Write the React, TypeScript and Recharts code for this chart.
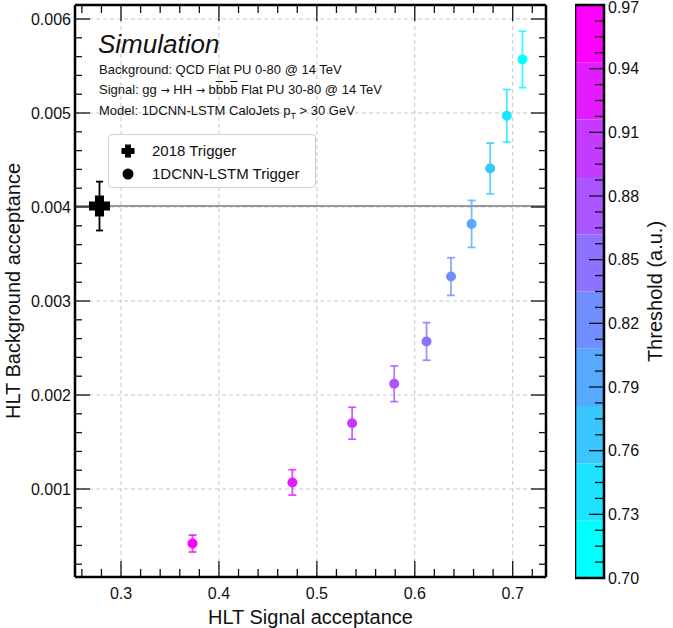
import { ScatterChart, Scatter, XAxis, YAxis, ErrorBar, ReferenceLine, ReferenceArea, CartesianGrid, Legend, Label } from "recharts";

// 1DCNN-LSTM working points (one per threshold)
const signalAcc = [0.373, 0.475, 0.536, 0.579, 0.612, 0.637, 0.658, 0.677, 0.694, 0.71];
const bkgAcc = [0.00042, 0.00107, 0.0017, 0.00212, 0.00257, 0.00326, 0.00382, 0.00441, 0.00497, 0.00557];
const bkgErr = [0.00009, 0.000135, 0.00017, 0.00019, 0.0002, 0.0002, 0.00025, 0.00027, 0.00028, 0.0003];
const thresholds = [0.97, 0.94, 0.91, 0.88, 0.85, 0.82, 0.79, 0.76, 0.73, 0.7];

// 2018 trigger reference point
const trigger2018 = [{ x: 0.278, y: 0.00401, err: 0.00026 }];

// axes
const xDomain = [0.253, 0.734];
const yDomain = [0.000064, 0.006149];
const xMajor = [0.3, 0.4, 0.5, 0.6, 0.7];
const xTicks = [0.26, 0.28, 0.3, 0.32, 0.34, 0.36, 0.38, 0.4, 0.42, 0.44, 0.46, 0.48, 0.5, 0.52, 0.54, 0.56, 0.58, 0.6, 0.62, 0.64, 0.66, 0.68, 0.7, 0.72];
const yMajor = [0.001, 0.002, 0.003, 0.004, 0.005, 0.006];
const yTicks = [
  0.0002, 0.0004, 0.0006, 0.0008, 0.001, 0.0012, 0.0014, 0.0016, 0.0018, 0.002,
  0.0022, 0.0024, 0.0026, 0.0028, 0.003, 0.0032, 0.0034, 0.0036, 0.0038, 0.004,
  0.0042, 0.0044, 0.0046, 0.0048, 0.005, 0.0052, 0.0054, 0.0056, 0.0058, 0.006,
];

// colour bar
const cbDomain = [0.7, 0.97];
const cbEdges = [0.7, 0.727, 0.754, 0.781, 0.808, 0.835, 0.862, 0.889, 0.916, 0.943, 0.97];
const cbMajor = [0.7, 0.73, 0.76, 0.79, 0.82, 0.85, 0.88, 0.91, 0.94, 0.97];
const cbTicks = [
  0.7, 0.7075, 0.715, 0.7225, 0.73, 0.7375, 0.745, 0.7525, 0.76, 0.7675, 0.775, 0.7825,
  0.79, 0.7975, 0.805, 0.8125, 0.82, 0.8275, 0.835, 0.8425, 0.85, 0.8575, 0.865, 0.8725,
  0.88, 0.8875, 0.895, 0.9025, 0.91, 0.9175, 0.925, 0.9325, 0.94, 0.9475, 0.955, 0.9625, 0.97,
];

const FONT = '"Liberation Sans", Arial, Helvetica, sans-serif';

// matplotlib "cool": cyan -> magenta
function cool(t: number) {
  const r = Math.round(255 * t);
  const g = Math.round(255 * (1 - t));
  return `rgb(${r},${g},255)`;
}
const thrColor = (thr: number) => cool((thr - cbDomain[0]) / (cbDomain[1] - cbDomain[0]));

const near = (v: number, list: number[]) => list.some((m) => Math.abs(m - v) < 1e-9);

function BottomTick({ x, y, payload }: any) {
  const major = near(payload.value, xMajor);
  return (
    <g>
      <line x1={x} x2={x} y1={y} y2={y - (major ? 16 : 8)} stroke="#111" strokeWidth={1.3} />
      {major && (
        <text x={x} y={y + 22} textAnchor="middle" fontSize={16} fill="#111" fontFamily={FONT}>
          {payload.value}
        </text>
      )}
    </g>
  );
}

function TopTick({ x, y, payload }: any) {
  const major = near(payload.value, xMajor);
  return <line x1={x} x2={x} y1={y} y2={y + (major ? 16 : 8)} stroke="#111" strokeWidth={1.3} />;
}

function LeftTick({ x, y, payload }: any) {
  const major = near(payload.value, yMajor);
  return (
    <g>
      <line x1={x} x2={x + (major ? 15 : 7)} y1={y} y2={y} stroke="#111" strokeWidth={1.3} />
      {major && (
        <text x={x - 4} y={y + 5.7} textAnchor="end" fontSize={16} fill="#111" fontFamily={FONT}>
          {payload.value}
        </text>
      )}
    </g>
  );
}

function RightTick({ x, y, payload }: any) {
  const major = near(payload.value, yMajor);
  return <line x1={x} x2={x - (major ? 15 : 7)} y1={y} y2={y} stroke="#111" strokeWidth={1.3} />;
}

function CbTick({ x, y, payload }: any) {
  const major = near(payload.value, cbMajor);
  return (
    <g>
      <line x1={x} x2={x - (major ? 15 : 9)} y1={y} y2={y} stroke="#111" strokeWidth={1.3} />
      {major && (
        <text x={x + 4} y={Math.max(y + 5.7, 13)} textAnchor="start" fontSize={16} fill="#111" fontFamily={FONT}>
          {payload.value.toFixed(2)}
        </text>
      )}
    </g>
  );
}

function crossPath(cx: number, cy: number, L: number, t: number) {
  return `M${cx - t},${cy - L}H${cx + t}V${cy - t}H${cx + L}V${cy + t}H${cx + t}V${cy + L}H${cx - t}V${cy + t}H${cx - L}V${cy - t}H${cx - t}Z`;
}

function LegendBox() {
  const row = { display: "flex", alignItems: "center", height: 23 } as const;
  return (
    <div
      style={{
        width: 208,
        height: 54,
        boxSizing: "border-box",
        border: "1px solid #d0d0d0",
        borderRadius: 4,
        background: "#fff",
        padding: "4px 0 0 0",
        fontFamily: FONT,
        fontSize: 15,
        color: "#111",
      }}
    >
      <div style={row}>
        <svg width={40} height={20} style={{ flex: "none" }}>
          <path d={crossPath(19, 10, 6.5, 3)} fill="#000" />
        </svg>
        <span style={{ marginLeft: 3 }}>2018 Trigger</span>
      </div>
      <div style={row}>
        <svg width={40} height={20} style={{ flex: "none" }}>
          <circle cx={19} cy={10} r={5.5} fill="#000" />
        </svg>
        <span style={{ marginLeft: 3 }}>1DCNN-LSTM Trigger</span>
      </div>
    </div>
  );
}

const points = signalAcc.map((x, i) => ({ x, y: bkgAcc[i], err: bkgErr[i], thr: thresholds[i] }));
const cbPoints = thresholds.map((t) => ({ x: 0.5, y: t }));

export default function App() {
  const small = { position: "absolute", left: 99, fontSize: 13, lineHeight: "13px", color: "#111", whiteSpace: "nowrap" } as const;
  const arrow = { fontFamily: '"DejaVu Sans", sans-serif', fontSize: 11 } as const;
  return (
    <div style={{ position: "absolute", left: 0, top: 0, width: 673, height: 628, background: "#fff", fontFamily: FONT }}>
      <div style={{ position: "absolute", left: 0, top: 0 }}>
        <ScatterChart width={560} height={628} margin={{ top: 4, right: 13, bottom: 0, left: 0 }}>
          <CartesianGrid verticalValues={xMajor} horizontalValues={yMajor} stroke="#c8c8c8" strokeDasharray="4 3" />
          <XAxis
            type="number"
            dataKey="x"
            domain={xDomain}
            allowDataOverflow
            ticks={xTicks}
            interval={0}
            height={51}
            tickSize={0}
            tickMargin={0}
            tickLine={false}
            tick={<BottomTick />}
            axisLine={{ stroke: "#000", strokeWidth: 2.5 }}
          >
            <Label
              content={(p: any) => (
                <text x={p.viewBox.x + p.viewBox.width / 2} y={p.viewBox.y + 47} textAnchor="middle" fontSize={20} fill="#111" fontFamily={FONT}>
                  HLT Signal acceptance
                </text>
              )}
            />
          </XAxis>
          <XAxis
            xAxisId="top"
            orientation="top"
            type="number"
            dataKey="x"
            domain={xDomain}
            allowDataOverflow
            ticks={xTicks}
            interval={0}
            height={1}
            tickSize={0}
            tickMargin={0}
            tickLine={false}
            tick={<TopTick />}
            axisLine={{ stroke: "#000", strokeWidth: 2.5 }}
          />
          <YAxis
            type="number"
            dataKey="y"
            domain={yDomain}
            allowDataOverflow
            ticks={yTicks}
            interval={0}
            width={75}
            tickSize={0}
            tickMargin={0}
            tickLine={false}
            tick={<LeftTick />}
            axisLine={{ stroke: "#000", strokeWidth: 2.5 }}
          >
            <Label
              content={(p: any) => {
                const cx = p.viewBox.x + 20;
                const cy = p.viewBox.y + p.viewBox.height / 2;
                return (
                  <text x={cx} y={cy} transform={`rotate(-90 ${cx} ${cy})`} textAnchor="middle" fontSize={20} fill="#111" fontFamily={FONT}>
                    HLT Background acceptance
                  </text>
                );
              }}
            />
          </YAxis>
          <YAxis
            yAxisId="right"
            orientation="right"
            type="number"
            dataKey="y"
            domain={yDomain}
            allowDataOverflow
            ticks={yTicks}
            interval={0}
            width={1}
            tickSize={0}
            tickMargin={0}
            tickLine={false}
            tick={<RightTick />}
            axisLine={{ stroke: "#000", strokeWidth: 2.5 }}
          />
          <ReferenceLine y={trigger2018[0].y} stroke="#999" strokeWidth={2} />
          {/* 2018 trigger is bound to the top/right axes (same ranges) so they get drawn */}
          <Scatter
            data={trigger2018}
            xAxisId="top"
            yAxisId="right"
            isAnimationActive={false}
            shape={(p: any) => <path d={crossPath(p.cx, p.cy, 10.5, 4.5)} fill="#000" />}
          >
            <ErrorBar dataKey="err" direction="y" width={3.5} stroke="#000" strokeWidth={1.8} isAnimationActive={false} />
          </Scatter>
          {points.map((pt, i) => (
            <Scatter
              key={i}
              data={[pt]}
              isAnimationActive={false}
              shape={(p: any) => <circle cx={p.cx} cy={p.cy} r={5} fill={thrColor(pt.thr)} />}
            >
              <ErrorBar dataKey="err" direction="y" width={4} stroke={thrColor(pt.thr)} strokeOpacity={0.8} strokeWidth={1.8} isAnimationActive={false} />
            </Scatter>
          ))}
          <Legend
            layout="vertical"
            align="center"
            verticalAlign="middle"
            content={() => <LegendBox />}
            wrapperStyle={{ position: "absolute", left: 108, top: 134, width: 208, height: 54 }}
          />
        </ScatterChart>
      </div>

      <div style={{ position: "absolute", left: 575, top: 0 }}>
        <ScatterChart width={98} height={628} margin={{ top: 5, right: 0, bottom: 50, left: 0 }}>
          <XAxis type="number" dataKey="x" domain={[0, 1]} allowDataOverflow hide />
          <YAxis
            type="number"
            dataKey="y"
            orientation="right"
            domain={cbDomain}
            allowDataOverflow
            ticks={cbTicks}
            interval={0}
            width={69}
            tickSize={0}
            tickMargin={0}
            tickLine={false}
            tick={<CbTick />}
            axisLine={false}
          >
            <Label
              content={(p: any) => {
                const cx = p.viewBox.x + 58;
                const cy = p.viewBox.y + p.viewBox.height / 2;
                return (
                  <text x={cx} y={cy} transform={`rotate(-90 ${cx} ${cy})`} textAnchor="middle" fontSize={20} fill="#111" fontFamily={FONT}>
                    Threshold (a.u.)
                  </text>
                );
              }}
            />
          </YAxis>
          {cbEdges.slice(0, -1).map((lo, k) => (
            <ReferenceArea key={k} x1={0} x2={1} y1={lo} y2={cbEdges[k + 1]} fill={cool(k / 9)} fillOpacity={1} stroke="none" />
          ))}
          <ReferenceArea x1={0} x2={1} y1={cbDomain[0]} y2={cbDomain[1]} fill="none" stroke="#000" strokeWidth={2.5} />
          {/* thresholds only define the bar's scale; nothing drawn */}
          <Scatter data={cbPoints} isAnimationActive={false} shape={() => <g />} />
        </ScatterChart>
      </div>

      <div style={{ position: "absolute", left: 98, top: 31, fontSize: 26, lineHeight: "26px", fontStyle: "italic", color: "#111" }}>
        Simulation
      </div>
      <div style={{ ...small, top: 62.5 }}>Background: QCD Flat PU 0-80 @ 14 TeV</div>
      <div style={{ ...small, top: 83 }}>
        Signal: gg <span style={arrow}>→</span> HH <span style={arrow}>→</span> b<span style={{ textDecoration: "overline" }}>b</span>b
        <span style={{ textDecoration: "overline" }}>b</span> Flat PU 30-80 @ 14 TeV
      </div>
      <div style={{ ...small, top: 103.5 }}>
        Model: 1DCNN-LSTM CaloJets p<sub style={{ fontSize: 9, lineHeight: 0 }}>T</sub> &gt; 30 GeV
      </div>
    </div>
  );
}
